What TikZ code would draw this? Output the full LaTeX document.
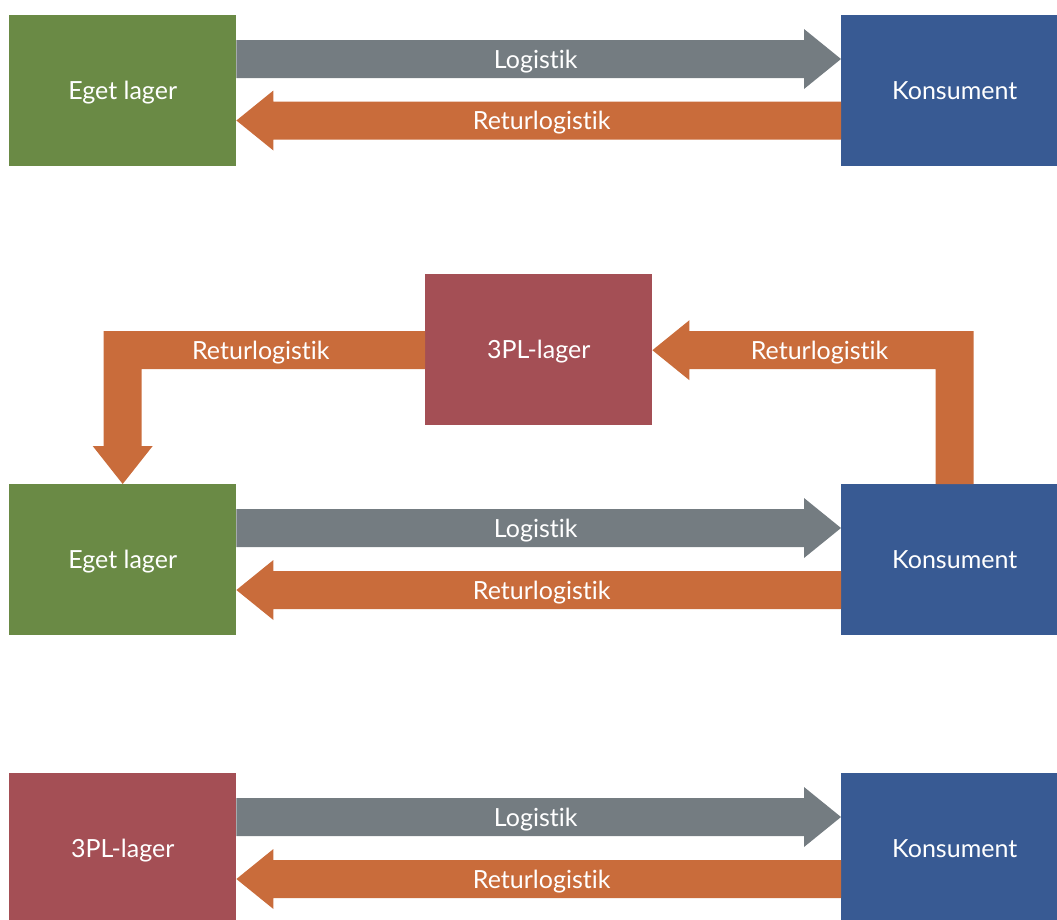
\documentclass[tikz,border=0pt]{standalone}
\usepackage{fontspec}
\setmainfont{Lato}[Ligatures={NoCommon,NoContextual}]
\usetikzlibrary{calc}
\definecolor{cgreen}{HTML}{6A8A45}
\definecolor{cblue}{HTML}{385A93}
\definecolor{cred}{HTML}{A44F55}
\definecolor{corange}{HTML}{C96C3B}
\definecolor{cgray}{HTML}{747C81}
% horizontal block arrow: #1 start, #2 tip, #3 colour, #4 direction (1 right, -1 left)
\newcommand{\hblockarrow}[4]{%
  \fill[#3] ($(#1)+(0,-19)$) -- ($(#2)+(-37*#4,-19)$) -- ($(#2)+(-37*#4,-30)$) -- (#2)
    -- ($(#2)+(-37*#4,30)$) -- ($(#2)+(-37*#4,19)$) -- ($(#1)+(0,19)$) -- cycle;}
\begin{document}
\begin{tikzpicture}[x=1pt,y=-1pt,
  txt/.style={text=white, inner sep=0pt, text height=22pt, text depth=4pt,
    font=\fontsize{25}{28}\selectfont},
  box/.style={txt, anchor=north west, minimum width=227pt, minimum height=151pt},
  lbl/.style={txt}]
\useasboundingbox (0,0) rectangle (1057,919);
% ---------- row 1
\node[box, fill=cgreen] (e1) at (9,15) {Eget lager};
\node[box, fill=cblue] (k1) at (841,15) {Konsument};
\coordinate (l1s) at ($(e1.north east)+(0,44)$);
\coordinate (l1t) at (k1.west |- l1s);
\coordinate (r1s) at ($(k1.north west)+(0,105.5)$);
\coordinate (r1t) at (e1.east |- r1s);
\hblockarrow{l1s}{l1t}{cgray}{1}
\hblockarrow{r1s}{r1t}{corange}{-1}
\node[lbl] (t1a) at ($(l1s)!0.5!(l1t)+(-3,0)$) {Logistik};
\node[lbl] (t1b) at ($(r1s)!0.5!(r1t)+(3,0)$) {Returlogistik};
% ---------- row 2
\node[box, fill=cred] (p2) at (425,274) {3PL-lager};
\node[box, fill=cgreen] (e2) at (9,484) {Eget lager};
\node[box, fill=cblue] (k2) at (841,484) {Konsument};
\coordinate (l2s) at ($(e2.north east)+(0,44)$);
\coordinate (l2t) at (k2.west |- l2s);
\coordinate (r2s) at ($(k2.north west)+(0,106)$);
\coordinate (r2t) at (e2.east |- r2s);
\hblockarrow{l2s}{l2t}{cgray}{1}
\hblockarrow{r2s}{r2t}{corange}{-1}
\node[lbl] (t2a) at ($(l2s)!0.5!(l2t)+(-3,0)$) {Logistik};
\node[lbl] (t2b) at ($(r2s)!0.5!(r2t)+(3,0)$) {Returlogistik};
% left return: 3PL -> Eget lager
\coordinate (lt) at (e2.north);
\coordinate (ls) at ($(p2.west)+(0,0.5)$);
\fill[corange] ($(ls)+(0,-19)$) -- ($(lt|-ls)+(-19,-19)$) -- ($(lt)+(-19,-38)$) -- ($(lt)+(-30,-38)$)
  -- (lt) -- ($(lt)+(30,-38)$) -- ($(lt)+(19,-38)$) -- ($(lt|-ls)+(19,19)$) -- ($(ls)+(0,19)$) -- cycle;
% right return: Konsument -> 3PL
\coordinate (rs) at (k2.north);
\coordinate (rt) at ($(p2.east)+(0,0.5)$);
\fill[corange] ($(rs)+(-19,0)$) -- ($(rs|-rt)+(-19,19)$) -- ($(rt)+(37,19)$) -- ($(rt)+(37,30)$)
  -- (rt) -- ($(rt)+(37,-30)$) -- ($(rt)+(37,-19)$) -- ($(rs|-rt)+(19,-19)$) -- ($(rs)+(19,0)$) -- cycle;
\node[lbl] (t2c) at ($(lt|-ls)!0.5!(ls)+(-13,0)$) {Returlogistik};
\node[lbl] (t2d) at ($(rs|-rt)!0.5!(rt)+(16,0)$) {Returlogistik};
% ---------- row 3
\node[box, fill=cred] (p3) at (9,773) {3PL-lager};
\node[box, fill=cblue] (k3) at (841,773) {Konsument};
\coordinate (l3s) at ($(p3.north east)+(0,44)$);
\coordinate (l3t) at (k3.west |- l3s);
\coordinate (r3s) at ($(k3.north west)+(0,106)$);
\coordinate (r3t) at (p3.east |- r3s);
\hblockarrow{l3s}{l3t}{cgray}{1}
\hblockarrow{r3s}{r3t}{corange}{-1}
\node[lbl] (t3a) at ($(l3s)!0.5!(l3t)+(-3,0)$) {Logistik};
\node[lbl] (t3b) at ($(r3s)!0.5!(r3t)+(3,0)$) {Returlogistik};
\end{tikzpicture}
\end{document}
